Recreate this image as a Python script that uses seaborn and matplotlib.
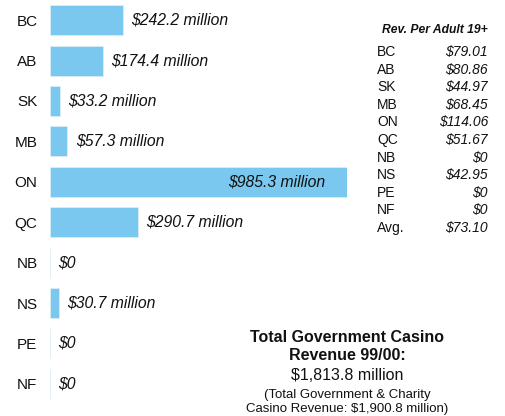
import matplotlib
matplotlib.use("Agg")
import matplotlib.pyplot as plt
import seaborn as sns
import pandas as pd

provinces = ["BC", "AB", "SK", "MB", "ON", "QC", "NB", "NS", "PE", "NF"]
revenue = [242.2, 174.4, 33.2, 57.3, 985.3, 290.7, 0, 30.7, 0, 0]
per_adult_labels = ["BC", "AB", "SK", "MB", "ON", "QC", "NB", "NS", "PE", "NF", "Avg."]
per_adult = [79.01, 80.86, 44.97, 68.45, 114.06, 51.67, 0, 42.95, 0, 0, 73.10]
table_title = "Rev. Per Adult 19+"
total_lines = ["Total Government Casino", "Revenue 99/00:", "$1,813.8 million",
               "(Total Government & Charity", "Casino Revenue: $1,900.8 million)"]

sns.set_theme(style="white")
plt.rcParams["font.family"] = ["Liberation Sans", "DejaVu Sans"]

W, H = 505, 416
fig = plt.figure(figsize=(W / 100, H / 100), dpi=100)
ax = fig.add_axes([50 / W, 12 / H, 297 / W, 404 / H])

df = pd.DataFrame({"prov": provinces, "rev": revenue})
bar_color = "#7AC8F0"
sns.barplot(data=df, y="prov", x="rev", orient="h", color=bar_color, width=0.74,
            saturation=1, ax=ax, edgecolor="#d8eef9", linewidth=0.6)

ax.set_xlim(0, max(revenue))
ax.set_ylim(len(provinces) - 0.5, -0.5)
ax.set_xlabel("")
ax.set_ylabel("")
ax.set_xticks([])
ax.tick_params(axis="y", length=0, pad=9, labelsize=11, labelcolor="#111111")
for s in ax.spines.values():
    s.set_visible(False)

def fmt(v):
    return "$0" if v == 0 else f"${v:,.1f} million"

xmax = max(revenue)
for i, v in enumerate(revenue):
    txt = fmt(v)
    if v == xmax:
        ax.annotate(txt, (v, i), xytext=(-16, 0), textcoords="offset points",
                    ha="right", va="center", fontsize=11.3, style="italic", color="#111111")
    else:
        ax.annotate(txt, (v, i), xytext=(6, 0), textcoords="offset points",
                    ha="left", va="center", fontsize=11.3, style="italic", color="#111111",
                    annotation_clip=False)

def ft(x, y, s, **kw):
    fig.text(x / W, 1 - y / H, s, **kw)

ft(435, 30, table_title, ha="center", va="center", fontsize=8.7,
   weight="bold", style="italic", color="#111111")
y0, dy = 52, 17.6
for k, (lab, val) in enumerate(zip(per_adult_labels, per_adult)):
    y = y0 + k * dy
    ft(377, y, lab, ha="left", va="center", fontsize=10, color="#111111")
    vtxt = "$0" if val == 0 else f"${val:.2f}"
    ft(488, y, vtxt, ha="right", va="center", fontsize=10, style="italic", color="#111111")

ys = [337, 356, 376, 395, 409]
sizes = [11.5, 11.5, 11.5, 9.5, 9.5]
weights = ["bold", "bold", "normal", "normal", "normal"]
for line, y, sz, w in zip(total_lines, ys, sizes, weights):
    ft(347, y, line, ha="center", va="center", fontsize=sz, weight=w, color="#111111")

fig.savefig("out.png", dpi=100, facecolor="white")
